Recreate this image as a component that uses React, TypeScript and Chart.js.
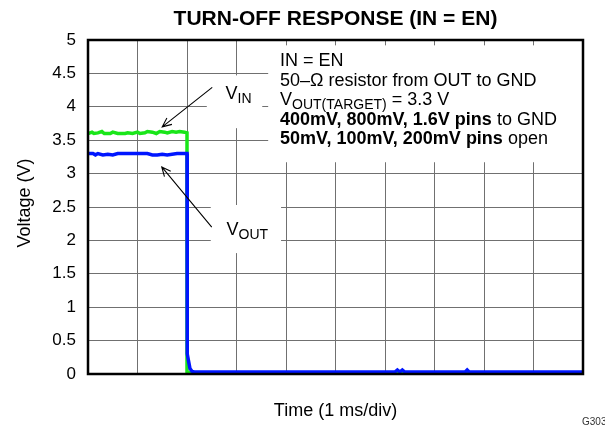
import React, { useEffect, useRef } from "react";
import { Chart, registerables } from "chart.js";

Chart.register(...registerables);

// ---- Data (time in divisions of 1 ms, voltage in V) ----
const vinTime = [0, 0.08, 0.12, 0.2, 0.28, 0.33, 0.45, 0.5, 0.6, 0.75, 0.8, 0.9, 1.0, 1.05, 1.15, 1.2, 1.3, 1.38, 1.45, 1.55, 1.6, 1.7, 1.78, 1.85, 1.95, 2.0, 2.0, 2.05, 2.5, 3.0, 3.5, 4.0, 4.5, 5.0, 5.5, 6.0, 6.5, 7.0, 7.5, 8.0, 8.5, 9.0, 9.5, 10];
const vinVolts = [3.6, 3.62, 3.6, 3.61, 3.63, 3.6, 3.6, 3.62, 3.6, 3.6, 3.61, 3.6, 3.62, 3.6, 3.61, 3.63, 3.62, 3.6, 3.63, 3.62, 3.61, 3.63, 3.62, 3.63, 3.62, 3.61, 0.03, 0.02, 0.02, 0.01, 0.02, 0.02, 0.02, 0.02, 0.02, 0.02, 0.02, 0.02, 0.02, 0.02, 0.02, 0.02, 0.02, 0.02];

const voutTime = [0, 0.1, 0.15, 0.2, 0.3, 0.4, 0.5, 0.6, 0.8, 1.0, 1.2, 1.3, 1.4, 1.5, 1.6, 1.8, 2.0, 2.0, 2.01, 2.03, 2.06, 2.1, 2.15, 2.5, 3.0, 3.5, 4.0, 4.5, 5.0, 5.5, 6.0, 6.2, 6.25, 6.3, 6.35, 6.4, 7.0, 7.5, 7.62, 7.66, 7.7, 8.0, 8.5, 9.0, 9.5, 10];
const voutVolts = [3.3, 3.3, 3.28, 3.3, 3.28, 3.29, 3.28, 3.3, 3.3, 3.3, 3.3, 3.28, 3.28, 3.29, 3.28, 3.3, 3.3, 0.4, 0.3, 0.2, 0.08, 0.04, 0.03, 0.03, 0.03, 0.03, 0.03, 0.03, 0.03, 0.03, 0.03, 0.03, 0.06, 0.03, 0.06, 0.03, 0.03, 0.03, 0.03, 0.06, 0.03, 0.03, 0.03, 0.03, 0.03, 0.03];

const yMin = 0;
const yMax = 5;
const yStep = 0.5;
const xMin = 0;
const xMax = 10;
const xStep = 1;

const titleText = "TURN-OFF RESPONSE (IN = EN)";
const xAxisTitle = "Time (1 ms/div)";
const yAxisTitle = "Voltage (V)";
const figureId = "G303";

type Seg = { text: string; bold?: boolean; sub?: boolean };
const noteLines: Seg[][] = [
  [{ text: "IN = EN" }],
  [{ text: "50\u2013\u03A9 resistor from OUT to GND" }],
  [{ text: "V" }, { text: "OUT(TARGET)", sub: true }, { text: " = 3.3 V" }],
  [{ text: "400mV, 800mV, 1.6V pins", bold: true }, { text: " to GND" }],
  [{ text: "50mV, 100mV, 200mV pins", bold: true }, { text: " open" }],
];
const vinLabel: Seg[] = [{ text: "V" }, { text: "IN", sub: true }];
const voutLabel: Seg[] = [{ text: "V" }, { text: "OUT", sub: true }];

const FONT = "'Liberation Sans', Arial, Helvetica, sans-serif";

function drawRich(ctx: CanvasRenderingContext2D, x: number, baseline: number, segs: Seg[], size: number) {
  let cx = x;
  for (const s of segs) {
    const sz = s.sub ? Math.round(size * 0.75) : size;
    ctx.font = `${s.bold ? "bold " : ""}${sz}px ${FONT}`;
    ctx.fillText(s.text, cx, baseline + (s.sub ? 4 : 0));
    cx += ctx.measureText(s.text).width;
  }
}

function arrow(ctx: CanvasRenderingContext2D, x1: number, y1: number, x2: number, y2: number) {
  ctx.save();
  ctx.strokeStyle = "#000";
  ctx.lineWidth = 1.1;
  ctx.beginPath();
  ctx.moveTo(x1, y1);
  ctx.lineTo(x2, y2);
  const a = Math.atan2(y2 - y1, x2 - x1);
  const L = 10;
  const w = 0.42;
  ctx.moveTo(x2 - L * Math.cos(a - w), y2 - L * Math.sin(a - w));
  ctx.lineTo(x2, y2);
  ctx.lineTo(x2 - L * Math.cos(a + w), y2 - L * Math.sin(a + w));
  ctx.stroke();
  ctx.restore();
}

const annotPlugin = {
  id: "annot",
  beforeDatasetsDraw(chart: any) {
    const { ctx, scales } = chart;
    const X = (v: number) => scales.x.getPixelForValue(v);
    const Y = (v: number) => scales.y.getPixelForValue(v);
    ctx.save();
    ctx.fillStyle = "#fff";
    // notes box
    ctx.fillRect(X(3.64), Y(4.92), X(9.98) - X(3.64), Y(3.17) - Y(4.92));
    // VIN label box
    ctx.fillRect(X(2.4), Y(4.47), X(3.52) - X(2.4), Y(3.68) - Y(4.47));
    // VOUT label box
    ctx.fillRect(X(2.48), Y(2.53), X(3.9) - X(2.48), Y(1.81) - Y(2.53));
    ctx.restore();
  },
  afterDatasetsDraw(chart: any) {
    const { ctx, scales, chartArea } = chart;
    const X = (v: number) => scales.x.getPixelForValue(v);
    const Y = (v: number) => scales.y.getPixelForValue(v);
    ctx.save();
    ctx.fillStyle = "#000";
    ctx.textAlign = "left";
    ctx.textBaseline = "alphabetic";
    // notes
    const nx = X(3.88);
    const nb = Y(4.61);
    noteLines.forEach((line, i) => drawRich(ctx, nx, nb + i * 19.5, line, 18));
    // labels
    drawRich(ctx, X(2.78), Y(4.12), vinLabel, 18);
    drawRich(ctx, X(2.8), Y(2.08), voutLabel, 18);
    // arrows
    arrow(ctx, X(2.51), Y(4.29), X(1.5), Y(3.7));
    arrow(ctx, X(2.5), Y(2.2), X(1.49), Y(3.1));
    // plot frame
    ctx.strokeStyle = "#000";
    ctx.lineWidth = 2.5;
    ctx.strokeRect(chartArea.left, chartArea.top, chartArea.right - chartArea.left, chartArea.bottom - chartArea.top);
    ctx.restore();
  },
  afterDraw(chart: any) {
    const { ctx, chartArea } = chart;
    const cx = (chartArea.left + chartArea.right) / 2;
    const cy = (chartArea.top + chartArea.bottom) / 2;
    ctx.save();
    ctx.fillStyle = "#000";
    ctx.textAlign = "center";
    ctx.textBaseline = "middle";
    ctx.font = `bold 21px ${FONT}`;
    ctx.fillText(titleText, cx, 19);
    ctx.font = `18px ${FONT}`;
    ctx.fillText(xAxisTitle, cx, chartArea.bottom + 37);
    ctx.save();
    ctx.translate(25, cy - 4);
    ctx.rotate(-Math.PI / 2);
    ctx.fillText(yAxisTitle, 0, 0);
    ctx.restore();
    ctx.textAlign = "left";
    ctx.font = `10px ${FONT}`;
    ctx.fillStyle = "#333";
    ctx.fillText(figureId, chartArea.right - 1, chartArea.bottom + 48);
    ctx.restore();
  },
};

export default function App() {
  const ref = useRef<HTMLCanvasElement | null>(null);
  useEffect(() => {
    if (!ref.current) return;
    const chart = new Chart(ref.current, {
      type: "line",
      data: {
        datasets: [
          {
            label: "VOUT",
            data: voutTime.map((t, i) => ({ x: t, y: voutVolts[i] })),
            borderColor: "#0016ff",
            borderWidth: 3.5,
            pointRadius: 0,
            tension: 0,
            fill: false,
          },
          {
            label: "VIN",
            data: vinTime.map((t, i) => ({ x: t, y: vinVolts[i] })),
            borderColor: "#19e619",
            borderWidth: 3.5,
            pointRadius: 0,
            tension: 0,
            fill: false,
          },
        ],
      },
      options: {
        animation: false,
        responsive: false,
        devicePixelRatio: 1,
        layout: { padding: { left: 0, right: 22, top: 40, bottom: 53 } },
        plugins: {
          legend: { display: false },
          title: { display: false },
          tooltip: { enabled: false },
        },
        scales: {
          x: {
            type: "linear",
            min: xMin,
            max: xMax,
            ticks: { display: false, stepSize: xStep },
            grid: { color: "#707070", lineWidth: 1, drawTicks: false },
            border: { display: false },
            afterFit: (s: any) => {
              s.height = 0;
            },
          },
          y: {
            type: "linear",
            min: yMin,
            max: yMax,
            ticks: {
              stepSize: yStep,
              padding: 12,
              color: "#000",
              font: { family: FONT, size: 17 },
              callback: (v: any) => String(v),
            },
            grid: { color: "#707070", lineWidth: 1, drawTicks: false },
            border: { display: false },
            afterFit: (s: any) => {
              s.width = 88;
            },
          },
        },
      },
      plugins: [annotPlugin],
    });
    return () => chart.destroy();
  }, []);
  return (
    <div style={{ position: "fixed", left: 0, top: 0, width: 605, height: 427, background: "#fff" }}>
      <canvas ref={ref} width={605} height={427} style={{ display: "block" }} />
    </div>
  );
}
